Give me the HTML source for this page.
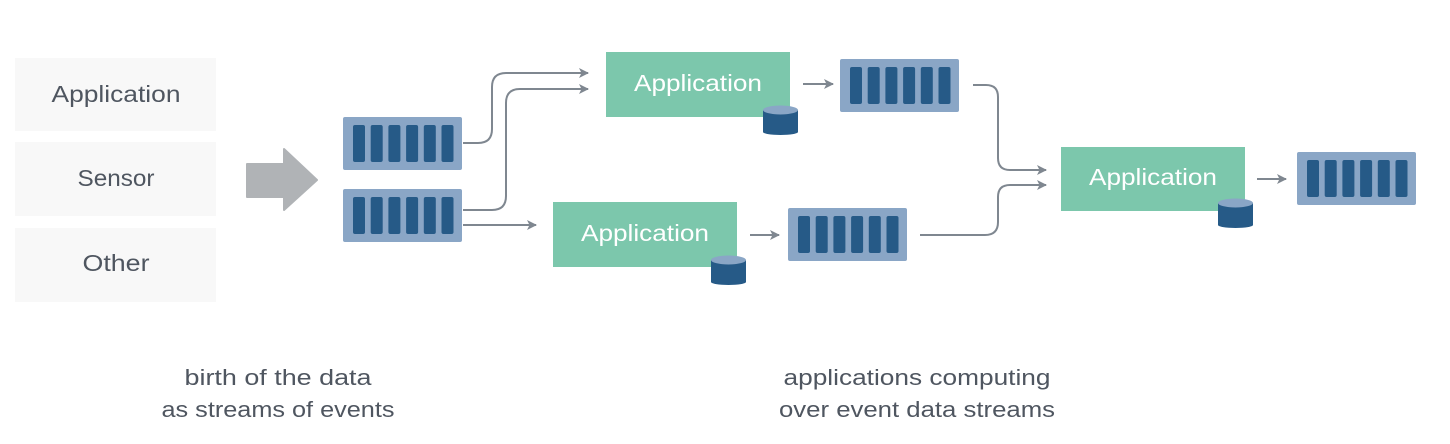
<!DOCTYPE html>
<html><head><meta charset="utf-8"><style>
html,body{margin:0;padding:0;background:#fff;}
svg{display:block;}
text{font-family:"Liberation Sans",sans-serif;}
</style></head><body>
<svg width="1450" height="444" viewBox="0 0 1450 444" xmlns="http://www.w3.org/2000/svg">
<defs>
<marker id="ah" viewBox="0 0 10 10" refX="9" refY="5" markerWidth="11" markerHeight="10" orient="auto" markerUnits="userSpaceOnUse">
<path d="M0,0 L10,5 L0,10 L2.5,5 z" fill="#7f8790"/>
</marker>
<g id="q">
<rect x="0" y="0" width="119" height="53" rx="2" fill="#8aa6c6"/>
<rect x="10" y="8" width="12" height="37" rx="2" fill="#265a87"/>
<rect x="27.7" y="8" width="12" height="37" rx="2" fill="#265a87"/>
<rect x="45.4" y="8" width="12" height="37" rx="2" fill="#265a87"/>
<rect x="63.1" y="8" width="12" height="37" rx="2" fill="#265a87"/>
<rect x="80.8" y="8" width="12" height="37" rx="2" fill="#265a87"/>
<rect x="98.5" y="8" width="12" height="37" rx="2" fill="#265a87"/>
</g>
<g id="cyl">
<rect x="0" y="5" width="35" height="22" fill="#265a87"/>
<ellipse cx="17.5" cy="27" rx="17.5" ry="3" fill="#265a87"/>
<ellipse cx="17.5" cy="5" rx="17.5" ry="4.5" fill="#8aa6c6"/>
</g>
</defs>

<rect x="15" y="58" width="201" height="73" fill="#f8f8f8"/>
<rect x="15" y="142" width="201" height="74" fill="#f8f8f8"/>
<rect x="15" y="228" width="201" height="74" fill="#f8f8f8"/>
<g fill="#4f5660" font-size="23" text-anchor="middle">
<text x="116" y="102" textLength="129" lengthAdjust="spacingAndGlyphs">Application</text>
<text x="116" y="186" textLength="77" lengthAdjust="spacingAndGlyphs">Sensor</text>
<text x="116" y="271" textLength="67" lengthAdjust="spacingAndGlyphs">Other</text>
</g>

<path d="M247,164 L284,164 L284,149 L317,180 L284,210 L284,197 L247,197 Z" fill="#b0b3b6" stroke="#b0b3b6" stroke-width="2" stroke-linejoin="round"/>

<use href="#q" x="343" y="117"/>
<use href="#q" x="343" y="189"/>
<use href="#q" x="840" y="59"/>
<use href="#q" x="788" y="208"/>
<use href="#q" x="1297" y="152"/>

<g fill="none" stroke="#7f8790" stroke-width="2" marker-end="url(#ah)">
<path d="M463,143 L478,143 Q492,143 492,129 L492,87 Q492,73 506,73 L588,73"/>
<path d="M463,210 L492,210 Q506,210 506,196 L506,103 Q506,89 520,89 L588,89"/>
<path d="M463,225 L536,225"/>
<path d="M803,84 L833,84"/>
<path d="M750,235 L779,235"/>
<path d="M973,85 L986,85 Q998,85 998,97 L998,158 Q998,170 1010,170 L1046,170"/>
<path d="M920,235 L985,235 Q998,235 998,222 L998,197 Q998,185 1010,185 L1046,185"/>
<path d="M1257,179 L1286,179"/>
</g>

<rect x="606" y="52" width="184" height="65" fill="#7cc7ac"/>
<rect x="553" y="202" width="184" height="65" fill="#7cc7ac"/>
<rect x="1061" y="147" width="184" height="64" fill="#7cc7ac"/>
<g fill="#ffffff" font-size="23" text-anchor="middle">
<text x="698" y="91" textLength="128" lengthAdjust="spacingAndGlyphs">Application</text>
<text x="645" y="241" textLength="128" lengthAdjust="spacingAndGlyphs">Application</text>
<text x="1153" y="185" textLength="128" lengthAdjust="spacingAndGlyphs">Application</text>
</g>
<use href="#cyl" x="763" y="105"/>
<use href="#cyl" x="711" y="255"/>
<use href="#cyl" x="1218" y="198"/>

<g fill="#4f5660" font-size="22" text-anchor="middle">
<text x="278" y="385" textLength="187" lengthAdjust="spacingAndGlyphs">birth of the data</text>
<text x="278" y="417" textLength="233" lengthAdjust="spacingAndGlyphs">as streams of events</text>
<text x="917" y="385" textLength="267" lengthAdjust="spacingAndGlyphs">applications computing</text>
<text x="917" y="417" textLength="276" lengthAdjust="spacingAndGlyphs">over event data streams</text>
</g>
</svg>
</body></html>
